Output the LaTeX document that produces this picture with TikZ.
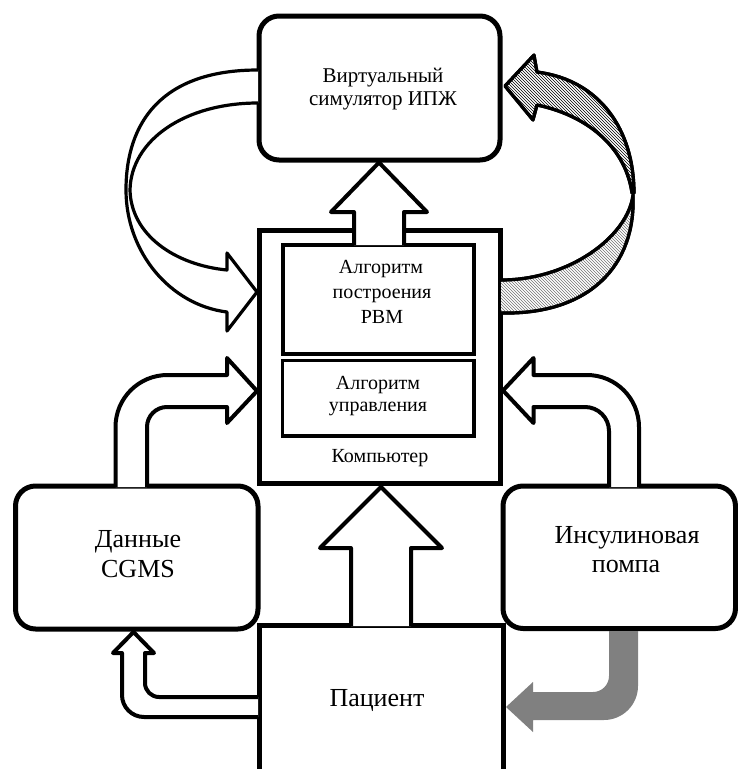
\documentclass[tikz,border=0pt]{standalone}
\usepackage{fontspec}
\setmainfont{Liberation Serif}
\usetikzlibrary{patterns}
\begin{document}
\begin{tikzpicture}[x=1pt,y=-1pt,
  rbox/.style={draw, line width=5pt, rounded corners=20pt, inner sep=0pt, minimum width=#1},
  sbox/.style={draw, line width=5pt, inner sep=0pt},
  ibox/.style={draw, line width=3.2pt, inner sep=0pt},
  blk/.style={draw, line width=4pt, fill=white, line join=round},
  crs/.style={draw, line width=3.2pt, fill=white, line join=round},
  hat/.style={draw, line width=3.2pt, line join=round},
  big/.style={font=\fontsize{26}{30}\selectfont, anchor=base, inner sep=0pt},
  mid/.style={font=\fontsize{21}{24}\selectfont, anchor=base, inner sep=0pt},
  sml/.style={font=\fontsize{20}{24}\selectfont, anchor=base, inner sep=0pt}]
\useasboundingbox (0,0) rectangle (738,769);
\clip (0,0) rectangle (738,769);

% boxes
\node[rbox=241pt, minimum height=144pt] (sim) at (379.5,88) {};
\node[sbox, minimum width=241pt, minimum height=253.5pt] (comp) at (380,356.75) {};
\node[ibox, minimum width=191pt, minimum height=109pt] (alg1) at (378.5,299.5) {};
\node[ibox, minimum width=191.5pt, minimum height=75.5pt] (alg2) at (378.25,398.25) {};
\node[rbox=242.5pt, minimum height=143pt] (cgms) at (136.75,557.5) {};
\node[rbox=232.5pt, minimum height=142.5pt] (pump) at (619.25,557.25) {};
\node[sbox, minimum width=243.5pt, minimum height=145.5pt] (pat) at (381.25,698.25) {};

% texts
\node[mid] (t1) at (383,82) {Виртуальный};
\node[mid] (t2) at (383,105) {симулятор ИПЖ};
\node[sml] (t3) at (381,273) {Алгоритм};
\node[sml] (t4) at (382,298) {построения};
\node[sml] (t5) at (382,323) {РВМ};
\node[sml] (t6) at (378,389) {Алгоритм};
\node[sml] (t7) at (378,411) {управления};
\node[sml] (t8) at (380,462) {Компьютер};
\node[big] (t9) at (138,547) {Данные};
\node[big] (t10) at (138,577) {CGMS};
\node[big] (t11) at (627,543) {Инсулиновая};
\node[big] (t12) at (626,572) {помпа};
\node[big] (t13) at (377,706) {Пациент};

% computer -> simulator
\path[blk] (354,245) -- (354,212) -- (331,212) -- (379,162.5) -- (427,212) -- (404,212) -- (404,245);

% patient -> computer
\path[blk] (351,626) -- (351,548) -- (320,548) -- (381,487) -- (442,548) -- (411,548) -- (411,626);

% CGMS -> computer
\path[blk] (115.5,487) -- (115.5,427) arc[start angle=180,end angle=270,radius=52]
  -- (227,375) -- (227,358) -- (257,391) -- (227,423) -- (227,407) -- (167,407)
  arc[start angle=270,end angle=180,radius=20] -- (147,487);

% pump -> computer
\path[blk] (639,487) -- (639,427) arc[start angle=0,end angle=-90,radius=52]
  -- (533.5,375) -- (533.5,358) -- (503,390.5) -- (533.5,423) -- (533.5,407) -- (585,407)
  arc[start angle=-90,end angle=0,radius=24] -- (609,487);

% patient -> CGMS
\path[blk] (258,717) -- (144,717) arc[start angle=90,end angle=180,radius=22]
  -- (122,653) -- (113,653) -- (133.5,632) -- (154,653) -- (145,653) -- (145,683)
  arc[start angle=180,end angle=90,radius=14] -- (258,697);

% pump -> patient (grey)
\fill[black!50] (609,631) -- (609,676) arc[start angle=0,end angle=90,radius=16]
  -- (533,692) -- (533,682) -- (506,707) -- (533,732) -- (533,720) -- (604,720)
  arc[start angle=90,end angle=0,radius=34] -- (638,631) -- cycle;

% simulator -> computer (left crescent)
\path[crs] (258,70) .. controls (162,70) and (126,122) .. (126,190)
  .. controls (126,252) and (170,305) .. (227,312)
  -- (227,331) -- (257,292) -- (227,253) -- (227,270)
  .. controls (175,265) and (131,235) .. (130,190)
  .. controls (131,140) and (185,103) .. (258,103);

% computer -> simulator (right hatched)
\path[hat, fill=white] (501,280) .. controls (570,280) and (628,236) .. (633,195)
  .. controls (636,265) and (590,315) .. (501,313);
\path[hat, pattern=north west lines, pattern color=black!55] (501,280) .. controls (570,280) and (628,236) .. (633,195)
  .. controls (636,265) and (590,315) .. (501,313);
\path[hat, fill=white] (634,193) .. controls (634,130) and (600,80) .. (537,72)
  -- (534,55) -- (505,86) -- (533,120) -- (537,105)
  .. controls (585,115) and (625,145) .. (632,193) -- cycle;
\path[hat, pattern=north west lines, pattern color=black] (634,193) .. controls (634,130) and (600,80) .. (537,72)
  -- (534,55) -- (505,86) -- (533,120) -- (537,105)
  .. controls (585,115) and (625,145) .. (632,193) -- cycle;
\end{tikzpicture}
\end{document}
